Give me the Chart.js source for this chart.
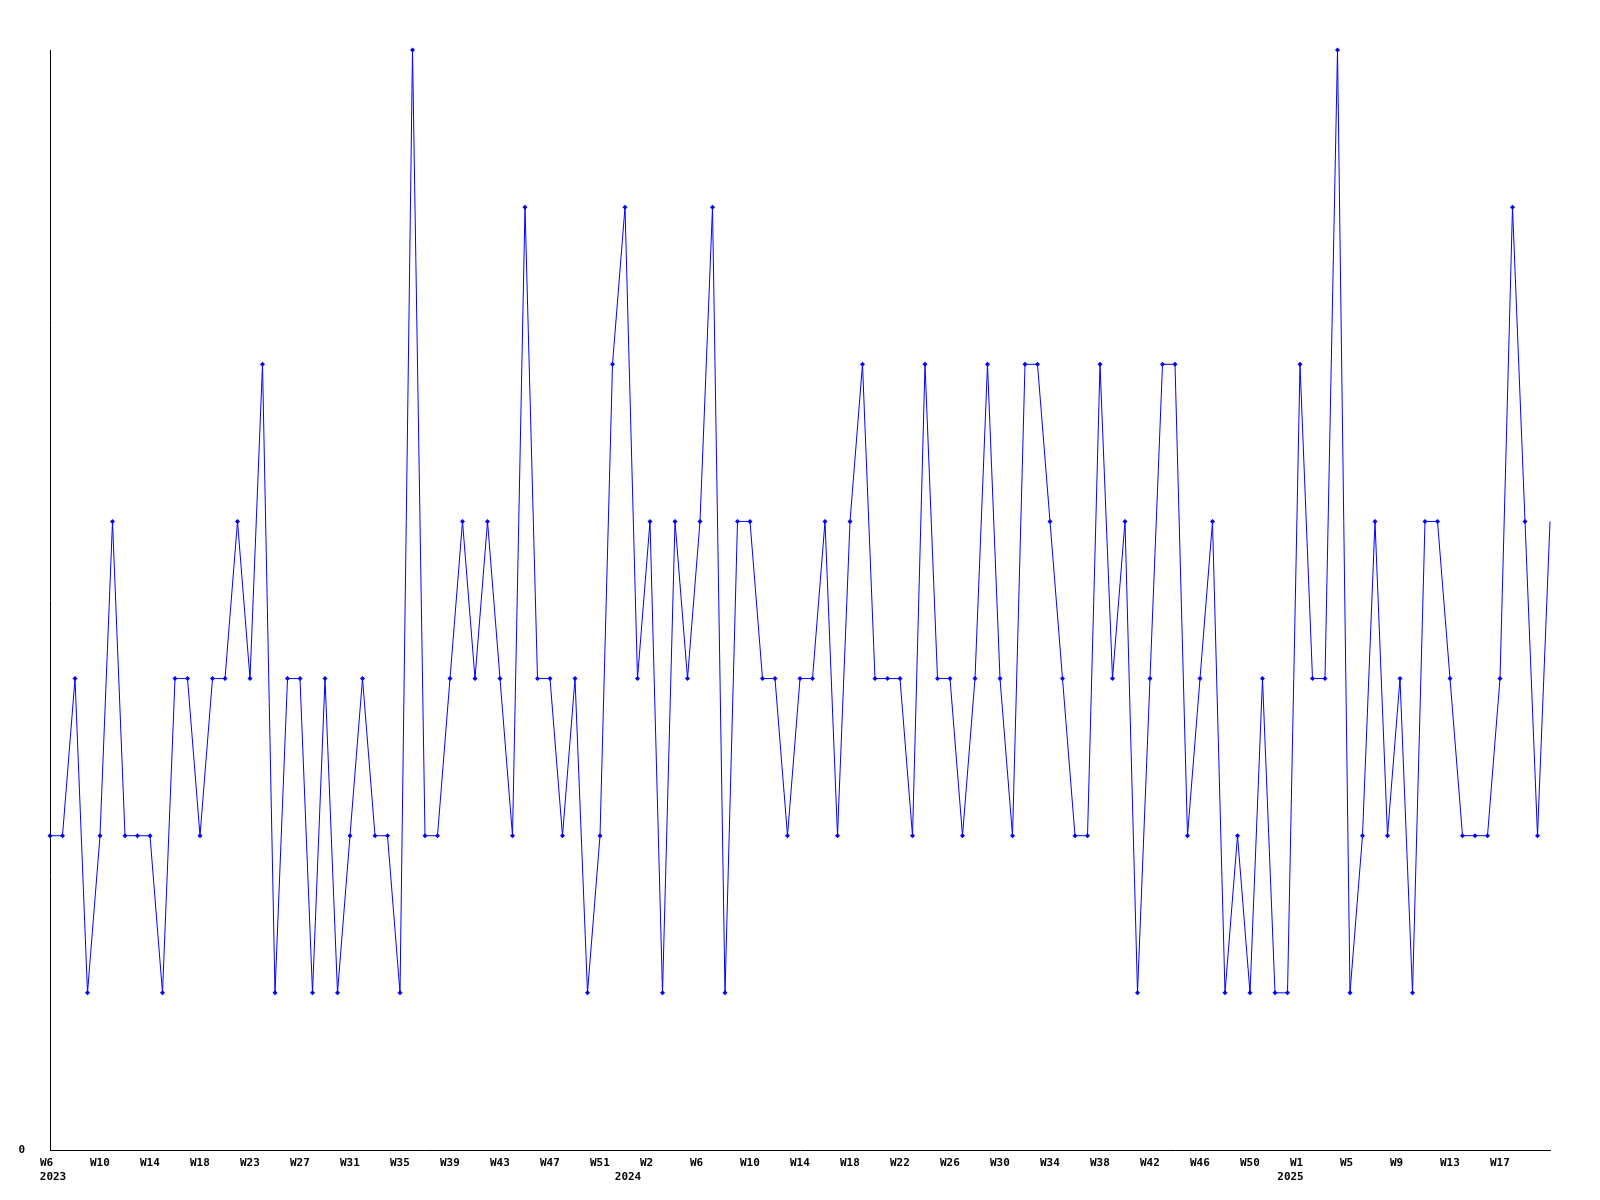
<!DOCTYPE html>
<html>
<head>
<meta charset="utf-8">
<script src="https://cdn.jsdelivr.net/npm/chart.js@4.4.0/dist/chart.umd.min.js"></script>
<style>
  html, body { margin: 0; padding: 0; background: #fff; }
  #chart { display: block; }
</style>
</head>
<body>
<canvas id="chart" width="1600" height="1200"></canvas>
<script>
// weekly counts, 2023 W6 .. 2025 W22
const counts = [
  2, 2, 3, 1, 2, 4, 2, 2, 2, 1, 3, 3, 2, 3, 3, 4, 3, 5, 1, 3, 3, 1, 3, 1, 2, 3, 2, 2, 1, 7, 2, 2, 3,
  4, 3, 4, 3, 2, 6, 3, 3, 2, 3, 1, 2, 5, 6, 3, 4, 1, 4, 3, 4, 6, 1, 4, 4, 3, 3, 2, 3, 3, 4, 2,
  4, 5, 3, 3, 3, 2, 5, 3, 3, 2, 3, 5, 3, 2, 5, 5, 4, 3, 2, 2, 5, 3, 4, 1, 3, 5, 5, 2, 3, 4, 1, 2,
  1, 3, 1, 1, 5, 3, 3, 7, 1, 2, 4, 2, 3, 1, 4, 4, 3, 2, 2, 2, 3, 6, 4, 2, 4
];

// one label per point (year, first week, number of weeks)
const yearSpans = [[2023, 6, 47], [2024, 1, 52], [2025, 1, 22]];
const weeks = [];
yearSpans.forEach(([y, first, n]) => {
  for (let i = 0; i < n; i++) weeks.push(y + "-W" + (first + i));
});

// axis labels, shown every 4th week
const tickEvery = 4;
const tickLabels = [
  "W6", "W10", "W14", "W18", "W23", "W27", "W31", "W35", "W39", "W43", "W47", "W51",
  "W2", "W6", "W10", "W14", "W18", "W22", "W26", "W30", "W34", "W38", "W42", "W46", "W50",
  "W1", "W5", "W9", "W13", "W17"
];
const years = ["2023", "2024", "2025"];
const yearAt = [0, 46, 99];

const FONT = "DejaVu Sans Mono";

const yearRow = {
  id: "yearRow",
  afterDraw(chart) {
    const ctx = chart.ctx;
    const xs = chart.scales.x;
    ctx.save();
    ctx.font = "bold 11px '" + FONT + "'";
    ctx.fillStyle = "#000";
    ctx.textAlign = "center";
    ctx.textBaseline = "top";
    years.forEach((t, i) => {
      ctx.fillText(t, xs.getPixelForValue(yearAt[i]) + 3, 1172);
    });
    ctx.restore();
  }
};

new Chart(document.getElementById("chart"), {
  type: "line",
  data: {
    labels: weeks,
    datasets: [{
      data: counts,
      borderColor: "#0000ff",
      backgroundColor: "#0000ff",
      borderWidth: 1,
      tension: 0,
      pointStyle: "rectRot",
      pointRadius: (c) => (c.dataIndex === counts.length - 1 ? 0 : 2.5),
      pointBorderWidth: 0,
      fill: false,
      clip: false
    }]
  },
  options: {
    responsive: false,
    animation: false,
    events: [],
    layout: { padding: { top: 50, right: 50, left: 0, bottom: 0 } },
    plugins: {
      legend: { display: false },
      tooltip: { enabled: false }
    },
    scales: {
      x: {
        type: "category",
        offset: false,
        grid: { display: false, drawTicks: false },
        border: { display: true, color: "#000", width: 1 },
        afterFit(s) { s.height = 50; },
        ticks: {
          autoSkip: false,
          maxRotation: 0,
          minRotation: 0,
          align: "start",
          labelOffset: -10,
          padding: 7,
          color: "#000",
          font: { family: FONT, size: 11, weight: "bold" },
          callback: (v, i) => (i % tickEvery === 0 ? (tickLabels[i / tickEvery] || "") : "")
        }
      },
      y: {
        min: 0,
        max: 7,
        grid: { display: false, drawTicks: false },
        border: { display: true, color: "#000", width: 1 },
        afterFit(s) { s.width = 50; },
        afterBuildTicks(s) { s.ticks = [{ value: 0 }]; },
        ticks: {
          padding: 25,
          color: "#000",
          font: { family: FONT, size: 11, weight: "bold" }
        }
      }
    }
  },
  plugins: [yearRow]
});
</script>
</body>
</html>
